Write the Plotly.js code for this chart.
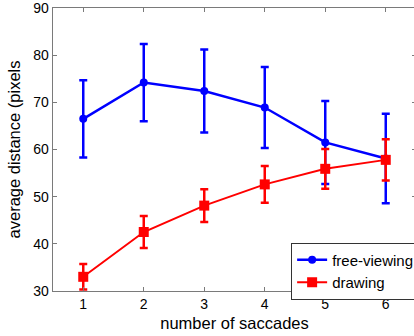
<!DOCTYPE html>
<html>
<head>
<meta charset="utf-8">
<script src="https://cdn.plot.ly/plotly-3.0.1.min.js"></script>
<style>
html, body { margin: 0; padding: 0; overflow: hidden; background: #fff; width: 414px; height: 336px; }
#chart { width: 420px; height: 346px; margin-top: -10px; }
</style>
</head>
<body>
<div id="chart"></div>
<script>
const saccades = [1, 2, 3, 4, 5, 6];
const freeViewingMean = [66.5, 74.2, 72.4, 68.9, 61.5, 58.1];
const freeViewingErr = [8.2, 8.2, 8.8, 8.6, 8.8, 9.5];
const drawingMean = [33.0, 42.5, 48.1, 52.6, 55.9, 57.8];
const drawingErr = [2.7, 3.4, 3.45, 3.9, 4.2, 4.4];
const seriesNames = ['free-viewing', 'drawing'];
const yTicks = [30, 40, 50, 60, 70, 80, 90];
const xTicks = [1, 2, 3, 4, 5, 6];

const fontFam = 'Liberation Sans, Arial, Helvetica, sans-serif';

const traces = [
  {
    x: saccades, y: freeViewingMean, name: seriesNames[0],
    type: 'scatter', mode: 'lines+markers',
    line: { color: '#0000ff', width: 2.5 },
    marker: { color: '#0000ff', symbol: 'circle', size: 8 },
    error_y: { type: 'data', array: freeViewingErr, visible: true, color: '#0000ff', thickness: 2.5, width: 4 }
  },
  {
    x: saccades, y: drawingMean, name: seriesNames[1],
    type: 'scatter', mode: 'lines+markers',
    line: { color: '#ff0000', width: 2 },
    marker: { color: '#ff0000', symbol: 'square', size: 10 },
    error_y: { type: 'data', array: drawingErr, visible: true, color: '#ff0000', thickness: 2.5, width: 4 }
  }
];

const axisCommon = {
  showgrid: false, zeroline: false,
  showline: true, linecolor: '#7a7a7a', linewidth: 1.3,
  mirror: 'ticks', ticks: 'inside', ticklen: 4, tickcolor: '#7a7a7a', tickwidth: 1,
  tickfont: { family: fontFam, size: 14, color: '#000' }
};

const layout = {
  width: 420, height: 346,
  margin: { l: 53, r: 1, t: 18, b: 45 },
  paper_bgcolor: '#fff', plot_bgcolor: '#fff',
  font: { family: fontFam, color: '#000' },
  showlegend: true,
  legend: {
    x: 0.656, y: 0.171, xanchor: 'left', yanchor: 'top',
    bordercolor: '#333', borderwidth: 1, bgcolor: '#fff',
    font: { family: fontFam, size: 15, color: '#000' },
    tracegroupgap: 0
  },
  xaxis: Object.assign({}, axisCommon, {
    range: [0.5, 6.5], tickvals: xTicks, ticktext: xTicks.map(String),
    title: { text: 'number of saccades', font: { family: fontFam, size: 16.5, color: '#000' }, standoff: 6 }
  }),
  yaxis: Object.assign({}, axisCommon, {
    range: [29.99, 90.01], tickvals: yTicks, ticktext: yTicks.map(String),
    title: { text: 'average distance (pixels', font: { family: fontFam, size: 16.5, color: '#000' }, standoff: 8 }
  })
};

Plotly.newPlot('chart', traces, layout, { displayModeBar: false, staticPlot: true });
</script>
</body>
</html>
